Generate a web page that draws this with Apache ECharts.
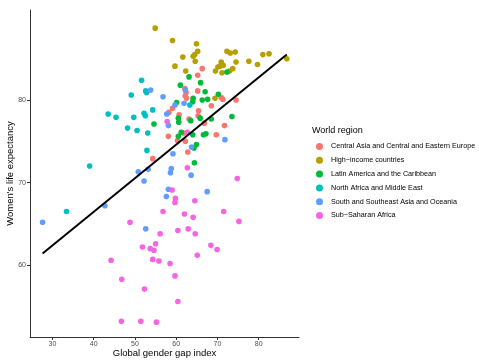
<!DOCTYPE html>
<html>
<head>
<meta charset="utf-8">
<script src="https://cdn.jsdelivr.net/npm/echarts@6/dist/echarts.min.js"></script>
<style>html,body{margin:0;padding:0;background:#fff}#c{width:479px;height:361px}</style>
</head>
<body>
<div id="c"></div>
<script>
const regions = ["Central Asia and Central and Eastern Europe","High\u2212income countries","Latin America and the Caribbean","North Africa and Middle East","South and Southeast Asia and Oceania","Sub\u2212Saharan Africa"];
const colors = ["#F8766D","#B79F00","#00BA38","#00BFC4","#619CFF","#F564E3"];
const xTicks = [30,40,50,60,70,80];
const yTicks = [60,70,80];

const centralAsia = [[66.3,83.8],[65.2,83.0],[62.1,81.4],[62.4,80.9],[62.2,80.5],[62.5,80.2],[65.2,81.1],[70.9,80.3],[71.3,80.1],[74.5,80.0],[59.1,79.0],[58.2,78.5],[60.7,78.2],[65.4,78.7],[68.5,79.3],[63.1,77.7],[65.3,78.1],[71.7,76.9],[66.8,77.2],[61.8,76.0],[60.3,75.1],[69.7,75.8],[62.2,75.0],[58.1,75.6],[62.8,73.7],[54.3,72.9]];
const highIncome = [[54.9,88.7],[59.1,87.2],[64.9,86.8],[65.2,85.9],[61.6,85.2],[64.1,85.3],[64.5,85.5],[64.6,84.7],[59.7,84.1],[62.3,83.5],[72.3,85.9],[73.1,85.7],[74.3,85.8],[74.5,84.6],[70.9,84.6],[70.6,84.1],[71.4,84.2],[70.1,84.0],[69.5,83.5],[71.1,83.3],[72.9,83.5],[73.7,83.8],[77.6,84.7],[79.7,84.3],[81.0,85.5],[82.5,85.6],[86.8,85.0],[69.4,80.2]];
const latinAmerica = [[63.1,82.8],[72.3,83.4],[65.9,82.1],[61.0,81.8],[67.0,81.0],[70.2,80.7],[64.1,80.2],[66.3,80.0],[67.6,80.1],[60.1,79.7],[64.0,79.8],[60.5,77.8],[60.6,77.3],[65.8,77.8],[68.5,77.7],[73.5,78.0],[54.6,77.1],[63.5,77.5],[61.2,76.1],[64.0,75.8],[60.5,75.6],[66.6,75.8],[67.2,75.9],[64.9,74.6],[64.3,74.2],[64.4,72.4]];
const northAfrica = [[51.6,82.4],[52.6,81.1],[52.8,80.9],[49.1,80.6],[43.5,78.3],[45.4,77.9],[49.7,77.9],[52.2,78.4],[52.5,78.1],[48.2,76.6],[50.5,76.3],[53.1,76.0],[52.9,73.9],[39.0,72.0],[33.4,66.5],[54.3,78.8],[63.3,79.4]];
const southAsia = [[53.8,81.2],[62.2,81.2],[56.8,80.4],[59.7,79.4],[61.9,79.6],[57.7,78.3],[58.1,76.9],[71.8,75.2],[63.7,74.3],[59.2,73.5],[58.8,71.7],[58.6,71.2],[63.6,70.9],[53.2,71.6],[50.8,71.3],[52.2,70.2],[58.1,69.2],[57.6,68.3],[67.5,68.9],[42.7,67.2],[27.6,65.2],[52.6,64.4]];
const subSaharan = [[57.8,77.4],[62.7,76.1],[62.7,71.8],[74.8,70.5],[59.0,69.1],[59.8,68.1],[59.7,67.6],[64.5,67.8],[56.8,66.5],[62.0,66.2],[64.1,65.8],[71.5,66.5],[75.2,65.3],[48.8,65.2],[56.1,63.8],[60.4,64.2],[62.9,64.4],[64.6,63.8],[55.0,62.6],[51.8,62.2],[53.7,62.0],[54.6,61.8],[68.4,62.4],[69.9,61.9],[65.1,61.2],[54.3,60.7],[55.8,60.5],[44.2,60.6],[58.5,60.2],[59.7,58.7],[46.8,58.3],[52.3,57.1],[60.4,55.6],[46.7,53.2],[51.4,53.2],[55.2,53.1]];
const fitLine = [[27.6,61.4],[86.8,85.5]];

const groups = [centralAsia, highIncome, latinAmerica, northAfrica, southAsia, subSaharan];

const chart = echarts.init(document.getElementById('c'), null, {renderer:'canvas'});
const series = groups.map((g,i)=>({
  name: regions[i], type:'scatter', data:g, symbolSize:5.6,
  itemStyle:{color:colors[i], opacity:1}, emphasis:{disabled:true}, z:2
}));
series.push({type:'line', data:fitLine, symbol:'none', lineStyle:{color:'#000', width:2}, z:3, silent:true});

chart.setOption({
  animation:false,
  backgroundColor:'#fff',
  title:{text:'World region', left:307, top:121, textStyle:{fontFamily:'Liberation Sans', fontSize:9, fontWeight:'normal', color:'#000'}},
  legend:{data:regions, orient:'vertical', left:311, top:138, itemWidth:7, itemHeight:7, itemGap:6.8, icon:'circle',
    textStyle:{fontFamily:'Liberation Sans', fontSize:7.2, color:'#000', padding:[0,0,0,3]}, selectedMode:false},
  grid:{left:30, right:180, top:10, bottom:24, outerBoundsMode:'none'},
  xAxis:{type:'value', min:24.55, max:89.76, name:'Global gender gap index', nameLocation:'middle', nameGap:11, nameMoveOverlap:false,
    nameTextStyle:{fontFamily:'Liberation Sans', fontSize:9.5, color:'#000'},
    axisLine:{show:true, lineStyle:{color:'#333', width:1}},
    axisTick:{show:true, length:3, customValues:xTicks, lineStyle:{color:'#333'}},
    axisLabel:{customValues:xTicks, fontFamily:'Liberation Sans', fontSize:7, color:'#4D4D4D', margin:4},
    splitLine:{show:false}},
  yAxis:{type:'value', min:51.3, max:90.9, name:"Women's life expectancy", nameLocation:'middle', nameGap:15, nameMoveOverlap:false,
    nameTextStyle:{fontFamily:'Liberation Sans', fontSize:9.5, color:'#000'},
    axisLine:{show:true, lineStyle:{color:'#333', width:1}},
    axisTick:{show:true, length:3, customValues:yTicks, lineStyle:{color:'#333'}},
    axisLabel:{customValues:yTicks, fontFamily:'Liberation Sans', fontSize:7, color:'#4D4D4D', margin:4},
    splitLine:{show:false}},
  series:series
});
</script>
</body>
</html>
